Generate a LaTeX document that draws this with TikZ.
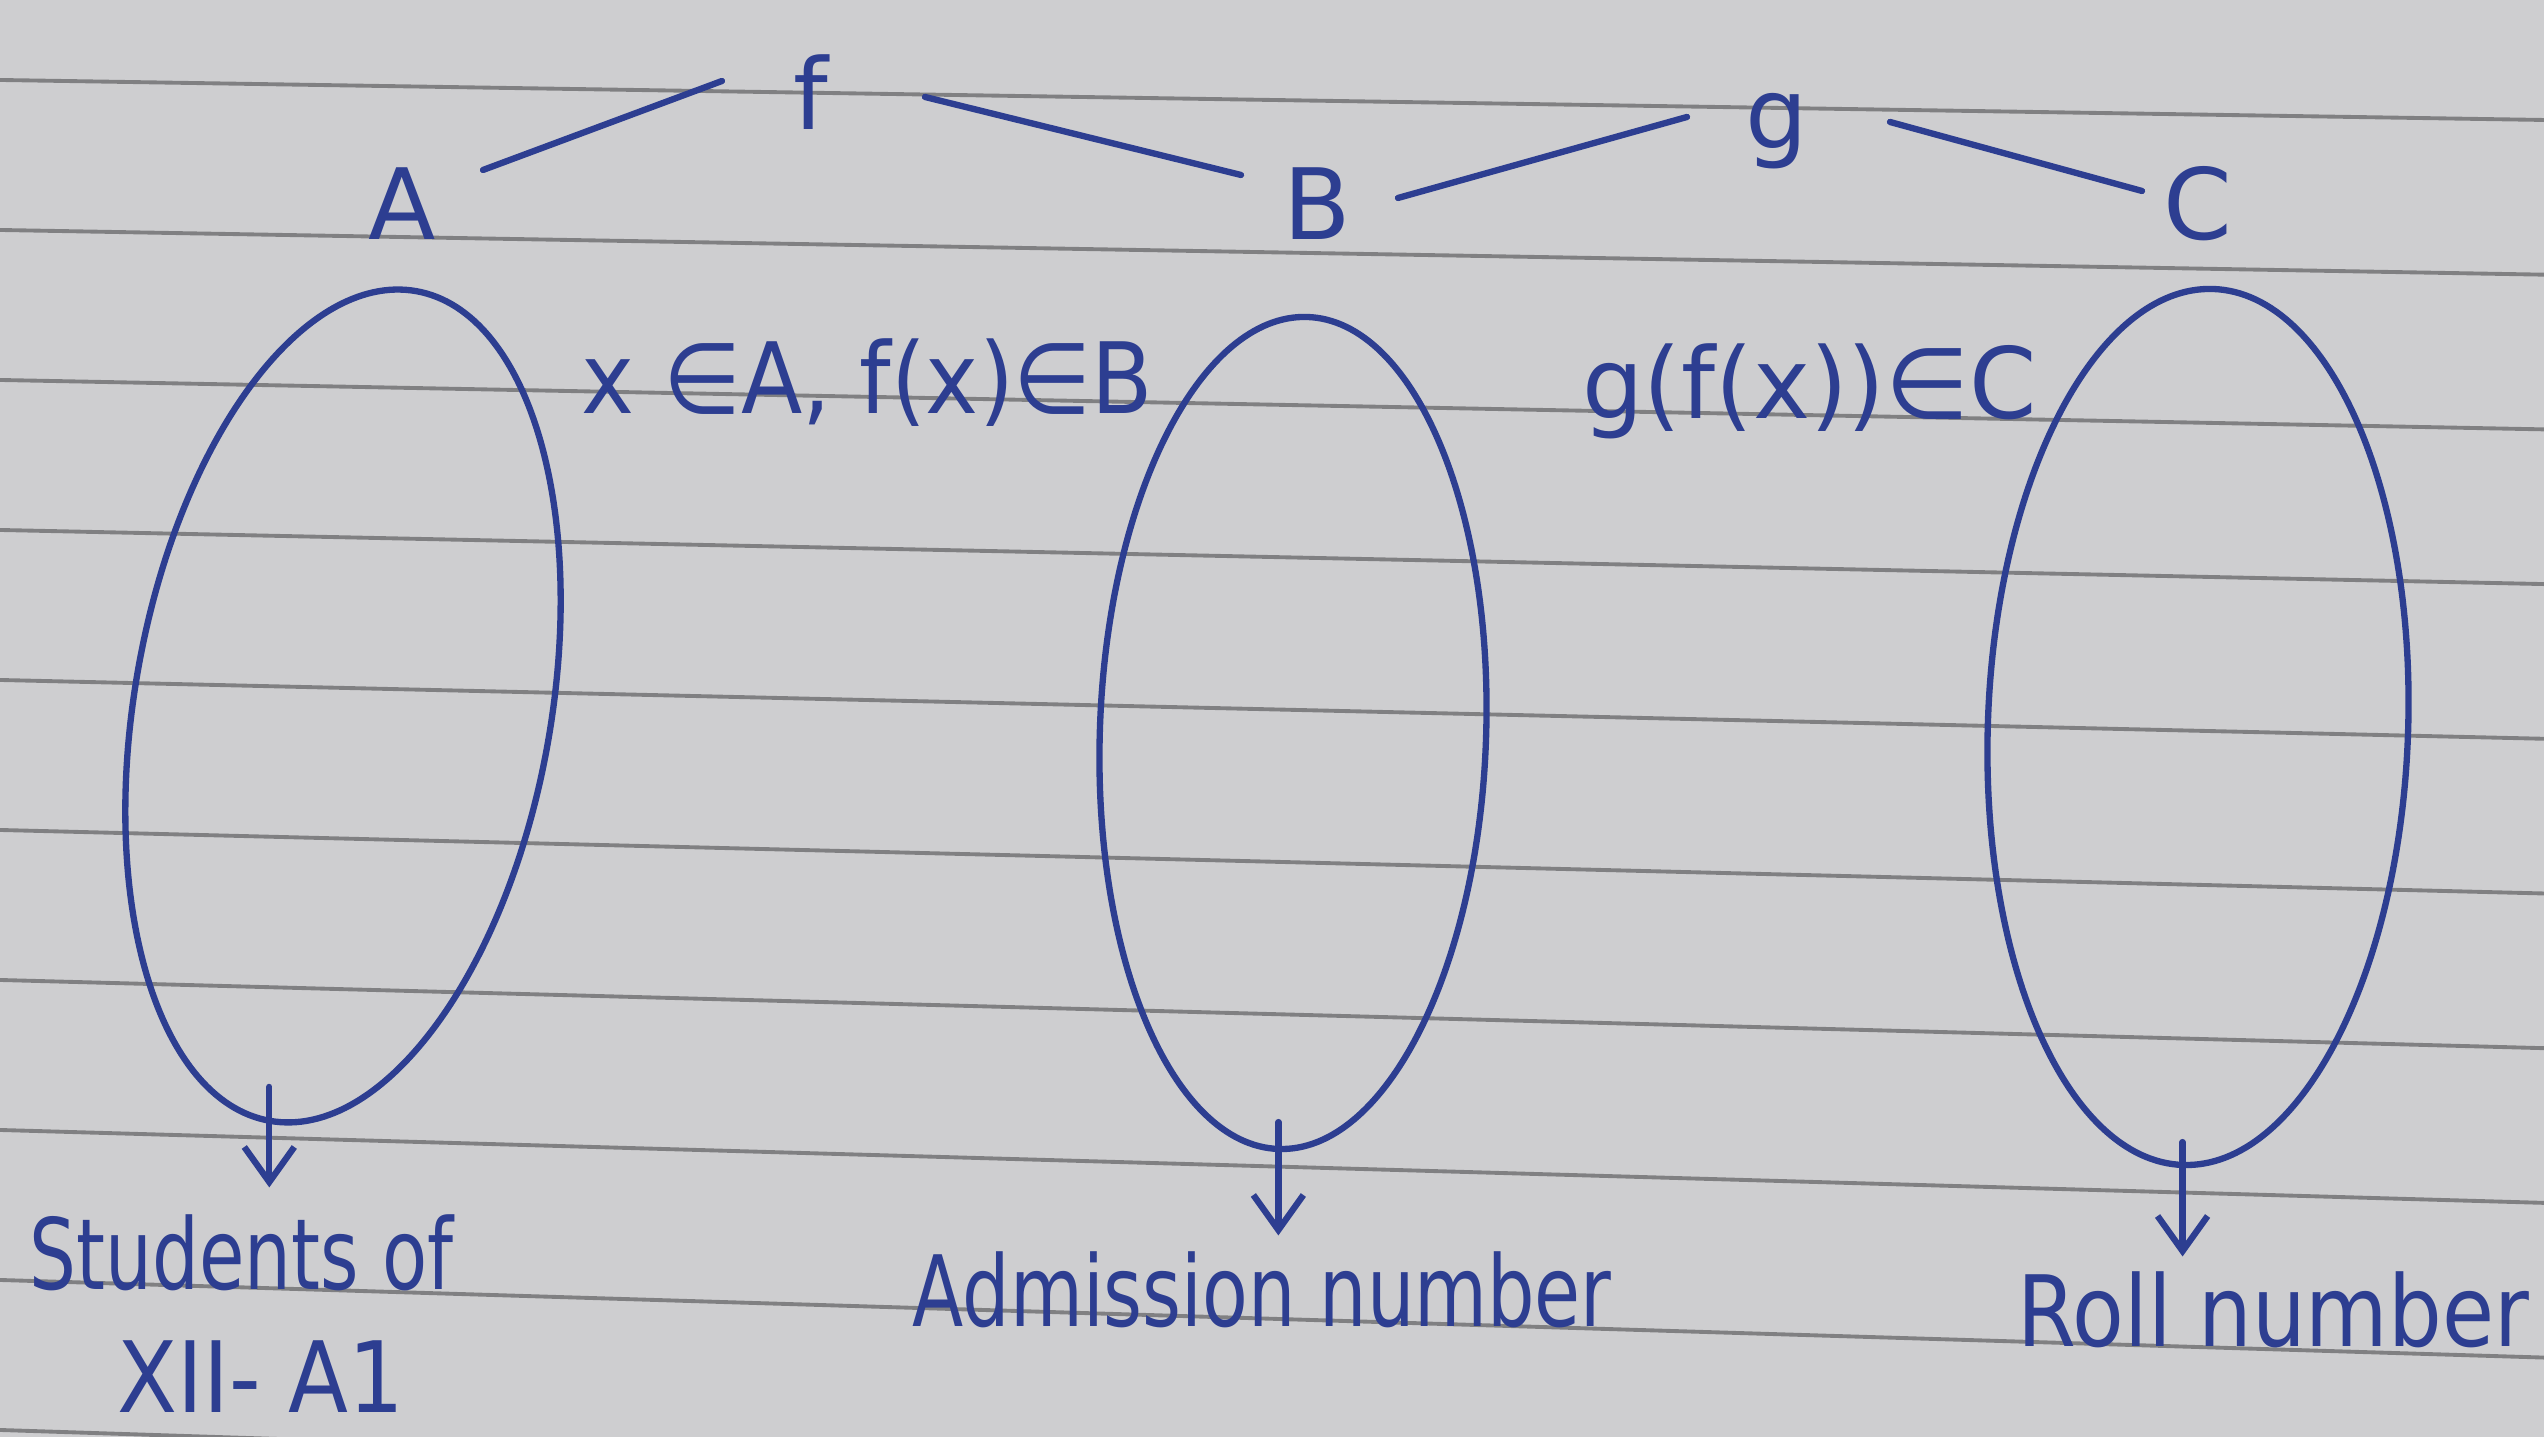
\documentclass[tikz,border=0pt]{standalone}
\usepackage{fontspec}
\setmainfont{DejaVu Sans}
\usetikzlibrary{shapes.geometric,arrows.meta}
\definecolor{ink}{RGB}{45,62,145}
\definecolor{paper}{RGB}{206,206,208}
\definecolor{rulecol}{RGB}{128,128,130}
\newcommand{\hand}[2]{\scalebox{#1}[1]{#2}}
\begin{document}
\begin{tikzpicture}[x=0.01cm,y=0.01cm,
  inkline/.style={draw=ink,line width=1.8pt,line cap=round},
  letterlbl/.style={text=ink,font=\fontsize{28}{30}\selectfont,inner sep=0pt,anchor=base},
  handtext/.style={text=ink,font=\fontsize{28}{30}\selectfont,inner sep=0pt,anchor=base west},
  setshape/.style={ellipse,draw=ink,line width=1.8pt,inner sep=0pt},
  arr/.style={draw=ink,line width=1.8pt,line cap=round,-{Straight Barb[length=3.5mm,width=5mm]}},
  ruled/.style={draw=rulecol,line width=1.1pt}]
\fill[paper] (0,0) rectangle (2544,1437);
\useasboundingbox (0,0) rectangle (2544,1437);
\foreach \k in {0,...,9} \draw[ruled] (0,{1437-80-150*\k}) -- (2544,{1437-120-154.7*\k});
% letters
\node[letterlbl] (A) at (402,1197) {A};
\node[letterlbl] (f) at (811,1307) {f};
\node[letterlbl] (B) at (1317,1197) {B};
\node[letterlbl] (g) at (1777,1288) {g};
\node[letterlbl] (C) at (2198,1197) {C};
% sets
\node[setshape,minimum width=4.16cm,minimum height=8.42cm,rotate=-10] (ellA) at (343,731) {};
\node[setshape,minimum width=3.86cm,minimum height=8.32cm,rotate=-2] (ellB) at (1293,704) {};
\node[setshape,minimum width=4.2cm,minimum height=8.76cm,rotate=-2] (ellC) at (2198,710) {};
% texts
\node[handtext] (labA) at (29,147) {\hand{0.75}{Students of}};
\node[handtext] (labA2) at (117,24) {\hand{0.89}{XII- A1}};
\node[handtext] (labB) at (912,110) {\hand{0.76}{Admission number}};
\node[handtext] (labC) at (2017,90) {\hand{0.86}{Roll number}};
\node[handtext] (m1) at (581,1023) {\hand{0.91}{x ∈A, f(x)∈B}};
\node[handtext] (m2) at (1582,1018) {\hand{0.98}{g(f(x))∈C}};
% connectors
\draw[inkline] ([shift={(81,70)}]A.base) -- ([shift={(-89,49)}]f.base);
\draw[inkline] ([shift={(114,33)}]f.base) -- ([shift={(-76,65)}]B.base);
\draw[inkline] ([shift={(81,42)}]B.base) -- ([shift={(-90,32)}]g.base);
\draw[inkline] ([shift={(113,27)}]g.base) -- ([shift={(-56,49)}]C.base);
% arrows
\coordinate (aEnd) at (ellA.south |- labA.north);
\coordinate (bEnd) at (ellB.south |- labB.north);
\coordinate (cEnd) at (ellC.south |- labC.north);
\draw[arr] ([yshift=0.37cm]ellA.south) -- ([yshift=0.27cm]aEnd);
\draw[arr] ([yshift=0.3cm]ellB.south) -- ([yshift=0.16cm]bEnd);
\draw[arr] ([yshift=0.26cm]ellC.south) -- ([yshift=0.15cm]cEnd);
\end{tikzpicture}
\end{document}
